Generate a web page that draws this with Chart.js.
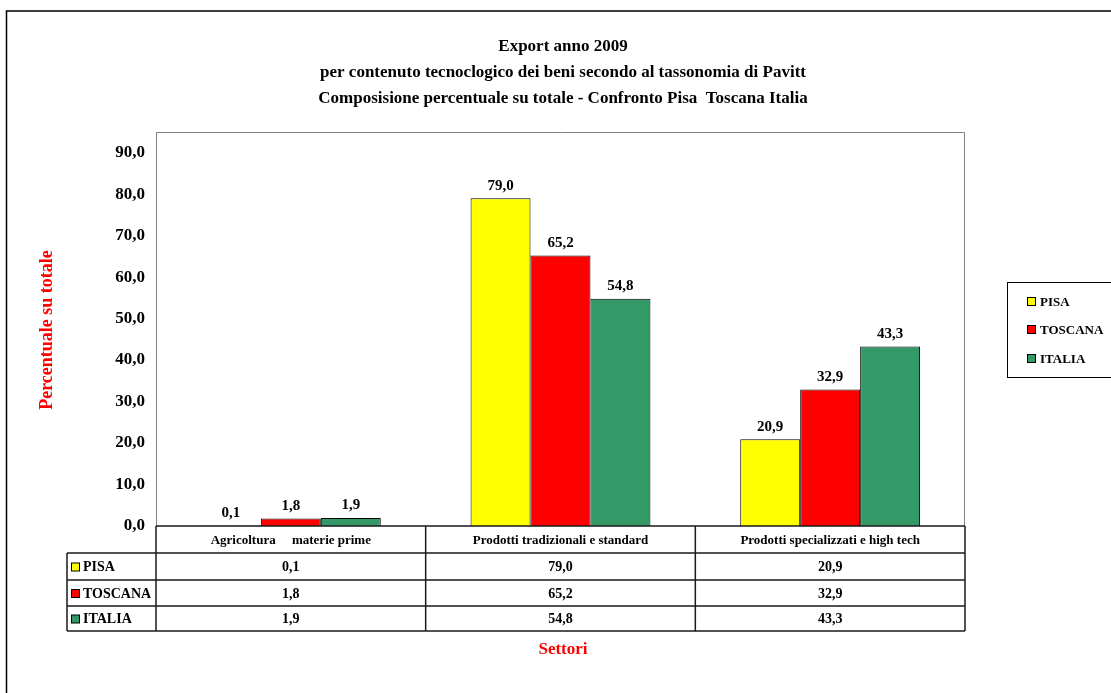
<!DOCTYPE html>
<html>
<head>
<meta charset="utf-8">
<script src="https://cdn.jsdelivr.net/npm/chart.js@4.4.1/dist/chart.umd.min.js"></script>
<style>
  body { margin: 0; background: #fff; }
  #wrap { width: 1111px; height: 693px; }
</style>
</head>
<body>
<div id="wrap"><canvas id="chart" width="1111" height="693"></canvas></div>
<script>
// data
const categories = ["Agricoltura     materie prime", "Prodotti tradizionali e standard", "Prodotti specializzati e high tech"];
const seriesNames = ["PISA", "TOSCANA", "ITALIA"];
const pisa = [0.1, 79.0, 20.9];
const toscana = [1.8, 65.2, 32.9];
const italia = [1.9, 54.8, 43.3];
const seriesColors = ["#FFFF00", "#FF0000", "#339966"];
const titleLines = [
    "Export anno 2009",
    "per contenuto tecnoclogico dei beni secondo al tassonomia di Pavitt",
    "Composisione percentuale su totale - Confronto Pisa  Toscana Italia"
];

const FONT = "'Liberation Serif', 'Times New Roman', serif";

function fmt(v) {
    return v.toFixed(1).replace(".", ",");
}

const extras = {
    id: "extras",
    afterDraw(chart) {
        const ctx = chart.ctx;
        const area = chart.chartArea;
        const xs = chart.scales.x;
        ctx.save();

        // outer border
        ctx.strokeStyle = "#000";
        ctx.lineWidth = 1.5;
        ctx.beginPath();
        ctx.moveTo(6.5, 700);
        ctx.lineTo(6.5, 11);
        ctx.lineTo(1120, 11);
        ctx.stroke();

        // plot area border (top/right grey)
        ctx.strokeStyle = "#808080";
        ctx.lineWidth = 1;
        ctx.beginPath();
        ctx.moveTo(area.left, area.top + 0.5);
        ctx.lineTo(area.right - 0.5, area.top + 0.5);
        ctx.lineTo(area.right - 0.5, area.bottom);
        ctx.stroke();

        // title
        ctx.fillStyle = "#000";
        ctx.font = "bold 17px " + FONT;
        ctx.textAlign = "center";
        ctx.textBaseline = "middle";
        titleLines.forEach((t, i) => ctx.fillText(t, 563, 47 + i * 26));

        // value labels above bars
        ctx.font = "bold 15px " + FONT;
        ctx.textBaseline = "bottom";
        chart.data.datasets.forEach((ds, i) => {
            chart.getDatasetMeta(i).data.forEach((bar, j) => {
                ctx.fillText(fmt(ds.data[j]), bar.x, bar.y - 5);
            });
        });

        // data table
        const colW = (area.right - area.left) / categories.length;
        const rows = [area.bottom, 553, 580, 606, 631];
        const keyLeft = 67;
        ctx.strokeStyle = "#1a1a1a";
        ctx.lineWidth = 1.5;
        ctx.beginPath();
        ctx.moveTo(area.left, rows[0]);
        ctx.lineTo(area.right, rows[0]);
        for (let r = 1; r < rows.length; r++) {
            ctx.moveTo(keyLeft, rows[r]);
            ctx.lineTo(area.right, rows[r]);
        }
        ctx.moveTo(keyLeft, rows[1]);
        ctx.lineTo(keyLeft, rows[4]);
        for (let c = 0; c <= categories.length; c++) {
            const x = area.left + c * colW;
            ctx.moveTo(x, rows[0]);
            ctx.lineTo(x, rows[4]);
        }
        ctx.stroke();

        ctx.textBaseline = "middle";
        ctx.textAlign = "center";
        ctx.fillStyle = "#000";
        ctx.font = "bold 13px " + FONT;
        categories.forEach((c, j) => {
            ctx.fillText(c, xs.getPixelForValue(j), (rows[0] + rows[1]) / 2 + 1);
        });
        ctx.font = "bold 14px " + FONT;
        chart.data.datasets.forEach((ds, i) => {
            const cy = (rows[i + 1] + rows[i + 2]) / 2 + 1;
            ds.data.forEach((v, j) => {
                ctx.fillText(fmt(v), xs.getPixelForValue(j), cy);
            });
            // legend key in table
            ctx.fillStyle = ds.backgroundColor;
            ctx.fillRect(71.5, cy - 4.5, 8, 8);
            ctx.strokeStyle = "#000";
            ctx.lineWidth = 1;
            ctx.strokeRect(71.5, cy - 4.5, 8, 8);
            ctx.fillStyle = "#000";
            ctx.textAlign = "left";
            ctx.fillText(ds.label, 83, cy);
            ctx.textAlign = "center";
        });

        // axis titles
        ctx.fillStyle = "#FF0000";
        ctx.font = "bold 17px " + FONT;
        ctx.fillText("Settori", 563, 650);
        ctx.save();
        ctx.translate(47, 330);
        ctx.rotate(-Math.PI / 2);
        ctx.font = "bold 18px " + FONT;
        ctx.fillText("Percentuale su totale", 0, 0);
        ctx.restore();

        // legend box
        ctx.strokeStyle = "#000";
        ctx.lineWidth = 1;
        ctx.strokeRect(1007.5, 282.5, 120, 95);
        ctx.font = "bold 13px " + FONT;
        ctx.textAlign = "left";
        const legY = [302, 330, 359];
        chart.data.datasets.forEach((ds, i) => {
            ctx.fillStyle = ds.backgroundColor;
            ctx.fillRect(1027.5, legY[i] - 4.5, 8, 8);
            ctx.strokeStyle = "#000";
            ctx.strokeRect(1027.5, legY[i] - 4.5, 8, 8);
            ctx.fillStyle = "#000";
            ctx.fillText(ds.label, 1040, legY[i] + 1);
        });

        ctx.restore();
    }
};

new Chart(document.getElementById("chart"), {
    type: "bar",
    data: {
        labels: categories,
        datasets: [
            { label: seriesNames[0], data: pisa, backgroundColor: seriesColors[0] },
            { label: seriesNames[1], data: toscana, backgroundColor: seriesColors[1] },
            { label: seriesNames[2], data: italia, backgroundColor: seriesColors[2] },
        ],
    },
    options: {
        responsive: false,
        animation: false,
        devicePixelRatio: 1,
        layout: { padding: { left: 0, top: 132, right: 146, bottom: 167 } },
        datasets: {
            bar: {
                categoryPercentage: 0.667,
                barPercentage: 1.0,
                borderColor: "#000",
                borderWidth: 1,
            },
        },
        scales: {
            x: { display: false },
            y: {
                min: 0,
                max: 95,
                afterFit: (scale) => { scale.width = 156; },
                grid: { display: false, drawTicks: false },
                border: { display: true, color: "#808080", width: 1 },
                ticks: {
                    stepSize: 10,
                    padding: 11,
                    color: "#000",
                    font: { family: FONT, size: 17, weight: "bold" },
                    callback: (v) => (v % 10 === 0 ? fmt(v) : ""),
                },
            },
        },
        plugins: {
            legend: { display: false },
            tooltip: { enabled: false },
        },
    },
    plugins: [extras],
});
</script>
</body>
</html>
